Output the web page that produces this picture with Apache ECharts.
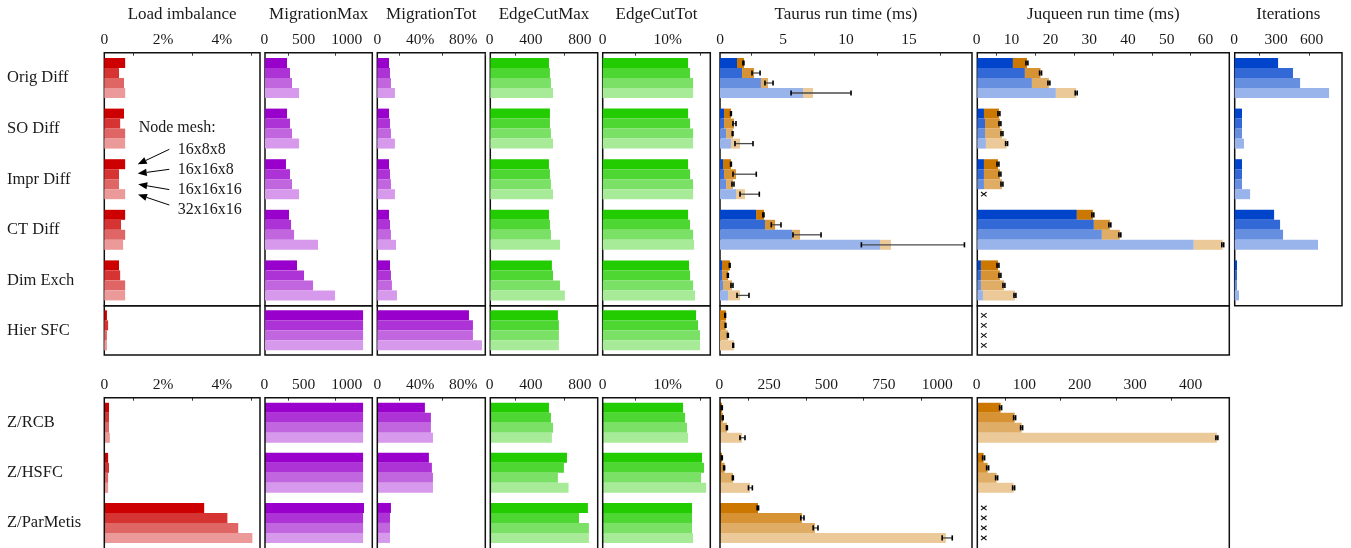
<!DOCTYPE html>
<html><head><meta charset="utf-8">
<script src="https://cdn.jsdelivr.net/npm/echarts@6/dist/echarts.min.js"></script>
<style>html,body{margin:0;padding:0;background:#fff}#c{width:1351px;height:548px}</style>
</head><body><div id="c"></div>
<script>
// ---------------- DATA ----------------
const categories = ['Orig Diff','SO Diff','Impr Diff','CT Diff','Dim Exch','Hier SFC','Z/RCB','Z/HSFC','Z/ParMetis'];
const meshes = ['16x8x8','16x16x8','16x16x16','32x16x16'];

// Load imbalance (%)
const loadImbalance = [
  [0.71,0.50,0.67,0.71],[0.67,0.54,0.71,0.71],[0.71,0.50,0.50,0.71],[0.71,0.57,0.71,0.64],[0.50,0.54,0.71,0.71],
  [0.09,0.13,0.09,0.09],[0.16,0.16,0.16,0.19],[0.13,0.16,0.13,0.13],[3.40,4.19,4.56,5.04]];
const migrationMax = [
  [234,266,287,362],[234,266,287,362],[223,266,287,362],[255,277,309,564],[340,415,511,745],
  [1043,1043,1043,1043],[1043,1043,1043,1043],[1043,1043,1043,1043],[1053,1043,1043,1043]];
const migrationTot = [ // %
  [10.9,11.8,12.7,16.4],[10.9,11.8,12.7,16.4],[10.9,11.8,12.7,16.4],[10.9,11.8,12.7,17.4],[11.8,12.7,13.6,18.3],
  [85.3,89.0,89.0,97.4],[44.3,49.9,49.9,51.8],[48.0,50.8,51.8,51.8],[12.7,11.8,11.8,11.8]];
const edgeCutMax = [
  [479,487,495,512],[487,487,495,512],[479,487,495,512],[479,487,495,569],[503,512,569,609],
  [552,560,560,560],[479,495,512,503],[626,601,552,639],[797,724,805,805]];
const edgeCutTot = [ // %
  [13.13,13.44,13.90,13.90],[13.13,13.44,13.90,13.90],[13.13,13.44,13.90,13.90],[13.13,13.44,13.90,14.05],[13.28,13.44,13.90,14.20],
  [14.36,14.67,14.97,14.97],[12.36,12.67,12.97,13.13],[15.28,15.59,15.13,15.90],[13.74,13.74,13.74,13.90]];

// Taurus run time (ms): iteration part, total, error range
const taurusIter = [
  [1.35,1.75,3.25,6.59],[0.32,0.32,0.48,0.87],[0.24,0.32,0.48,1.27],[2.86,3.57,5.72,12.70],[0.16,0.16,0.24,0.64],
  [0,0,0,0],[0,0,0,0],[0,0,0,0],[0,0,0,0]];
const taurusTotal = [
  [1.90,2.70,3.81,7.38],[0.87,1.11,1.03,1.59],[0.87,1.27,1.03,1.98],[3.49,4.37,6.35,13.57],[0.79,0.64,0.95,1.59],
  [0.48,0.45,0.64,1.11],[8.7,13,30.5,95.8],[8.7,20.3,56.6,130.7],[165.5,357,413.8,984]];
const taurusErrLow = [
  [1.82,2.54,3.57,5.64],[0.84,1.03,0.97,1.19],[0.84,1.03,0.95,1.59],[3.40,4.07,5.79,11.22],[0.74,0.59,0.87,1.35],
  [0.38,0.41,0.59,1.02],[5,10,28,87],[6,16,54,124],[162,352,406,968]];
const taurusErrHigh = [
  [1.90,3.18,4.21,10.40],[0.90,1.27,1.03,2.62],[0.90,2.88,1.11,3.12],[3.49,4.84,8.02,19.40],[0.80,0.66,1.03,2.30],
  [0.44,0.47,0.66,1.08],[10,14,32,109],[10,20,58,141],[168,366,427,1012]];

// Juqueen run time (ms); null = no result (x)
const juqueenIter = [
  [9.19,12.28,14.09,20.27],[1.72,1.98,1.98,2.23],[1.72,1.72,1.72,null],[25.68,30.07,32.13,55.84],[0.94,0.94,0.94,1.46],
  [null,null,null,null],[0,0,0,0],[0,0,0,0],[null,null,null,null]];
const juqueenTotal = [
  [12.80,16.32,18.47,25.51],[5.58,5.84,6.36,7.56],[5.33,5.84,6.36,null],[29.81,34.19,36.77,63.31],[5.33,5.84,6.87,9.71],
  [null,null,null,null],[42.1,67.4,80.0,432.6],[11.4,18.7,34.9,65.6],[null,null,null,null]];
const juqueenErr = [ // half-width of error bar
  [0.25,0.25,0.25,0.25],[0.25,0.25,0.25,0.25],[0.25,0.25,0.25,null],[0.25,0.25,0.25,0.25],[0.25,0.25,0.25,0.25],
  [null,null,null,null],[1.8,1.8,1.8,1.8],[1.8,1.8,1.8,1.8],[null,null,null,null]];

// Iterations
const iterations = [
  [262,352,395,570],[44,44,44,56],[44,44,44,93],[238,274,292,503],[14,14,14,26]];

// tick labels / minor ticks
const loadTicks = [0,2,4], loadMinor = [1,3,5];
const migMaxTicks = [0,500,1000], migMaxMinor = [250,750];
const migTotTicks = [0,40,80], migTotMinor = [20,60,100];
const ecMaxTicks = [0,400,800], ecMaxMinor = [200,600];
const ecTotTicks = [0,10], ecTotMinor = [5,15];
const taurusTopTicks = [0,5,10,15], taurusTopMinor = [2.5,7.5,12.5,17.5];
const taurusBotTicks = [0,250,500,750,1000], taurusBotMinor = [125,375,625,875];
const juqTopTicks = [0,10,20,30,40,50,60], juqTopMinor = [5,15,25,35,45,55];
const juqBotTicks = [0,100,200,300,400], juqBotMinor = [50,150,250,350];
const iterTicks = [0,300,600], iterMinor = [150,450];

// ---------------- STYLE / LAYOUT ----------------
const FONT = 'Liberation Serif';
const TXT = '#1a1a1a';
const BAR_W = 10;
const reds    = ['#cc0000','#d63333','#e06666','#eb9999'];
const purples = ['#9900cc','#ad33d6','#c266e0','#d699eb'];
const greens  = ['#22cc00','#4ed633','#7ae066','#a7eb99'];
const blues   = ['#0044cc','#3369d6','#668fe0','#99b4eb'];
const oranges = ['#cc7700','#d69233','#e0ad66','#ebc999'];

const pct = v => v === 0 ? '0' : v + '%';
const num = v => String(v);
const numIter = v => v === 600 ? '{s|600}' : String(v);

const panels = [
  {title:'Load imbalance', l:104.3, r:260, kind:'simple', data:loadImbalance, colors:reds,
   top:{max:5.3, ticks:loadTicks, minor:loadMinor}, fmt:pct, align:'center'},
  {title:'MigrationMax', l:265, r:372.3, kind:'simple', data:migrationMax, colors:purples,
   top:{max:1141, ticks:migMaxTicks, minor:migMaxMinor}, fmt:num, align:'right'},
  {title:'MigrationTot', l:377.3, r:485.3, kind:'simple', data:migrationTot, colors:purples,
   top:{max:100.5, ticks:migTotTicks, minor:migTotMinor}, fmt:pct, align:'center'},
  {title:'EdgeCutMax', l:490.3, r:597.7, kind:'simple', data:edgeCutMax, colors:greens,
   top:{max:877, ticks:ecMaxTicks, minor:ecMaxMinor}, fmt:num, align:'right'},
  {title:'EdgeCutTot', l:602.7, r:710.3, kind:'simple', data:edgeCutTot, colors:greens,
   top:{max:16.55, ticks:ecTotTicks, minor:ecTotMinor}, fmt:pct, align:'center'},
  {title:'Taurus run time (ms)', l:720, r:972, kind:'time', iter:taurusIter, total:taurusTotal,
   errLo:(c,m)=>taurusErrLow[c][m], errHi:(c,m)=>taurusErrHigh[c][m],
   top:{max:20, ticks:taurusTopTicks, minor:taurusTopMinor, align:'center'},
   bot:{max:1098, ticks:taurusBotTicks, minor:taurusBotMinor, align:'right'}, fmt:num},
  {title:'Juqueen run time (ms)', l:977.3, r:1229.3, kind:'time', iter:juqueenIter, total:juqueenTotal,
   errLo:(c,m)=>juqueenTotal[c][m]==null?null:juqueenTotal[c][m]-juqueenErr[c][m],
   errHi:(c,m)=>juqueenTotal[c][m]==null?null:juqueenTotal[c][m]+juqueenErr[c][m],
   top:{max:65, ticks:juqTopTicks, minor:juqTopMinor, align:'right'},
   bot:{max:455, ticks:juqBotTicks, minor:juqBotMinor, align:'right'}, fmt:num},
  {title:'Iterations', l:1234.7, r:1342, kind:'simple', data:iterations, colors:blues, onlyFirst:true,
   top:{max:648, ticks:iterTicks, minor:iterMinor}, fmt:numIter, align:'right'}
];

const blocks = [
  {cats:[0,1,2,3,4], top:52.7, bottom:305.7, axis:true, title:true},
  {cats:[5], top:305.7, bottom:355, axis:false, title:false},
  {cats:[6,7,8], top:397.7, bottom:548.9, axis:true, title:false, openBottom:true}
];

const option = {animation:false, textStyle:{fontFamily:FONT}, grid:[], xAxis:[], yAxis:[], series:[], graphic:[]};

function errRender(params, api){
  const lo = api.value(0), hi = api.value(1), k = api.value(2), m = api.value(3);
  const a = api.coord([lo, k]), b = api.coord([hi, k]);
  const y = a[1] + (m - 1.5) * BAR_W;
  const h = 2.6;
  return {type:'group', children:[
    {type:'line', shape:{x1:a[0], y1:y, x2:b[0], y2:y}, style:{stroke:'#4a4a4a', lineWidth:1.3}},
    {type:'line', shape:{x1:a[0], y1:y-h, x2:a[0], y2:y+h}, style:{stroke:'#000', lineWidth:1.6}},
    {type:'line', shape:{x1:b[0], y1:y-h, x2:b[0], y2:y+h}, style:{stroke:'#000', lineWidth:1.6}}
  ]};
}
function crossRender(params, api){
  const k = api.value(1), m = api.value(2);
  const p = api.coord([0, k]);
  const x = p[0] + 6.5, y = p[1] + (m - 1.5) * BAR_W;
  const s = 2.8;
  return {type:'group', children:[
    {type:'line', shape:{x1:x-s, y1:y-s*0.8, x2:x+s, y2:y+s*0.8}, style:{stroke:'#111', lineWidth:1.1}},
    {type:'line', shape:{x1:x-s, y1:y+s*0.8, x2:x+s, y2:y-s*0.8}, style:{stroke:'#111', lineWidth:1.1}}
  ]};
}

let g = 0;
blocks.forEach((blk, bi) => {
  panels.forEach((p, pi) => {
    if (p.onlyFirst && bi !== 0) return;
    const sc = (bi === 2 && p.bot) ? p.bot : p.top;
    const align = sc.align || p.align;
    const h = blk.bottom - blk.top;
    option.grid.push({left:p.l, top:blk.top, width:p.r - p.l, height:h,
      show:!blk.openBottom, borderColor:'#111', borderWidth:1.5, backgroundColor:'transparent'});
    if (blk.openBottom) {
      // frame without bottom edge (panel continues past the picture edge)
      option.graphic.push({type:'polyline', silent:true, z:10,
        shape:{points:[[p.l, blk.bottom + 6],[p.l, blk.top],[p.r, blk.top],[p.r, blk.bottom + 6]]},
        style:{stroke:'#111', lineWidth:1.5, fill:null}});
    }
    option.xAxis.push({gridIndex:g, type:'value', position:'top', min:0, max:sc.max,
      axisLine:{show:false}, splitLine:{show:false},
      axisTick:{show:blk.axis, customValues:sc.minor, inside:true, length:3, lineStyle:{color:'#333', width:1}},
      axisLabel:{show:blk.axis, customValues:sc.ticks, formatter:p.fmt, align:align,
        padding: align === 'right' ? [0,-3.3,0,0] : 0,
        rich:{s:{fontFamily:FONT, fontSize:15.5, color:TXT, padding:[0,14,0,0]}},
        margin:5, fontFamily:FONT, fontSize:15.5, color:TXT},
      name: blk.title ? p.title : '', nameLocation:'middle', nameGap:30,
      nameTextStyle:{fontFamily:FONT, fontSize:17, color:TXT}});
    option.yAxis.push({gridIndex:g, type:'category', inverse:true, data:blk.cats.map(c => categories[c]),
      axisLine:{show:false}, axisTick:{show:false}, splitLine:{show:false},
      axisLabel:{show:pi === 0, align:'left', margin:p.l - 7, fontFamily:FONT, fontSize:16.5, color:TXT}});

    if (p.kind === 'simple') {
      for (let m = 0; m < 4; m++) {
        option.series.push({type:'bar', xAxisIndex:g, yAxisIndex:g, barWidth:BAR_W, barGap:'0%',
          silent:true, itemStyle:{color:p.colors[m]},
          data: blk.cats.map(c => p.data[c][m])});
      }
    } else {
      const errData = [], crossData = [];
      for (let m = 0; m < 4; m++) {
        option.series.push({type:'bar', xAxisIndex:g, yAxisIndex:g, stack:'g'+g+'s'+m, barWidth:BAR_W, barGap:'0%',
          silent:true, itemStyle:{color:blues[m]},
          data: blk.cats.map(c => p.total[c][m] == null ? '-' : p.iter[c][m])});
        option.series.push({type:'bar', xAxisIndex:g, yAxisIndex:g, stack:'g'+g+'s'+m, barWidth:BAR_W, barGap:'0%',
          silent:true, itemStyle:{color:oranges[m]},
          data: blk.cats.map(c => p.total[c][m] == null ? '-' : +(p.total[c][m] - p.iter[c][m]).toFixed(3))});
        blk.cats.forEach((c, k) => {
          if (p.total[c][m] == null) crossData.push([0, k, m]);
          else errData.push([p.errLo(c, m), p.errHi(c, m), k, m]);
        });
      }
      option.series.push({type:'custom', xAxisIndex:g, yAxisIndex:g, silent:true, z:5,
        renderItem:errRender, encode:{x:[0,1], y:2}, data:errData});
      if (crossData.length) option.series.push({type:'custom', xAxisIndex:g, yAxisIndex:g, silent:true, z:5,
        renderItem:crossRender, encode:{x:0, y:1}, data:crossData});
    }
    g++;
  });
});

// "Node mesh" annotation
const annot = [
  {text:'Node mesh:', x:138.7, y:128},
  {text:meshes[0], x:177.7, y:150},
  {text:meshes[1], x:177.7, y:170},
  {text:meshes[2], x:177.7, y:190},
  {text:meshes[3], x:177.7, y:210}
];
annot.forEach(a => option.graphic.push({type:'text', x:a.x, y:a.y, silent:true,
  style:{text:a.text, fontFamily:FONT, fontSize:16, fill:TXT, verticalAlign:'middle', align:'left'}}));
const arrows = [[169.3,149.3,137.7,164.3],[169.3,169.3,137.7,173.6],[169.3,189.6,138.2,184.3],[169.3,205,138,194.5]];
arrows.forEach(([x1,y1,x2,y2]) => {
  const dx = x2-x1, dy = y2-y1, L = Math.hypot(dx,dy), ux = dx/L, uy = dy/L;
  const hl = 9, hw = 3.6;
  const bx = x2 - ux*hl, by = y2 - uy*hl;
  option.graphic.push({type:'line', silent:true, shape:{x1, y1, x2:bx, y2:by}, style:{stroke:'#000', lineWidth:1}});
  option.graphic.push({type:'polygon', silent:true, shape:{points:[[x2,y2],[bx - uy*hw, by + ux*hw],[bx + uy*hw, by - ux*hw]]}, style:{fill:'#000'}});
});

const chart = echarts.init(document.getElementById('c'), null, {renderer:'canvas'});
chart.setOption(option);
</script>
</body></html>
